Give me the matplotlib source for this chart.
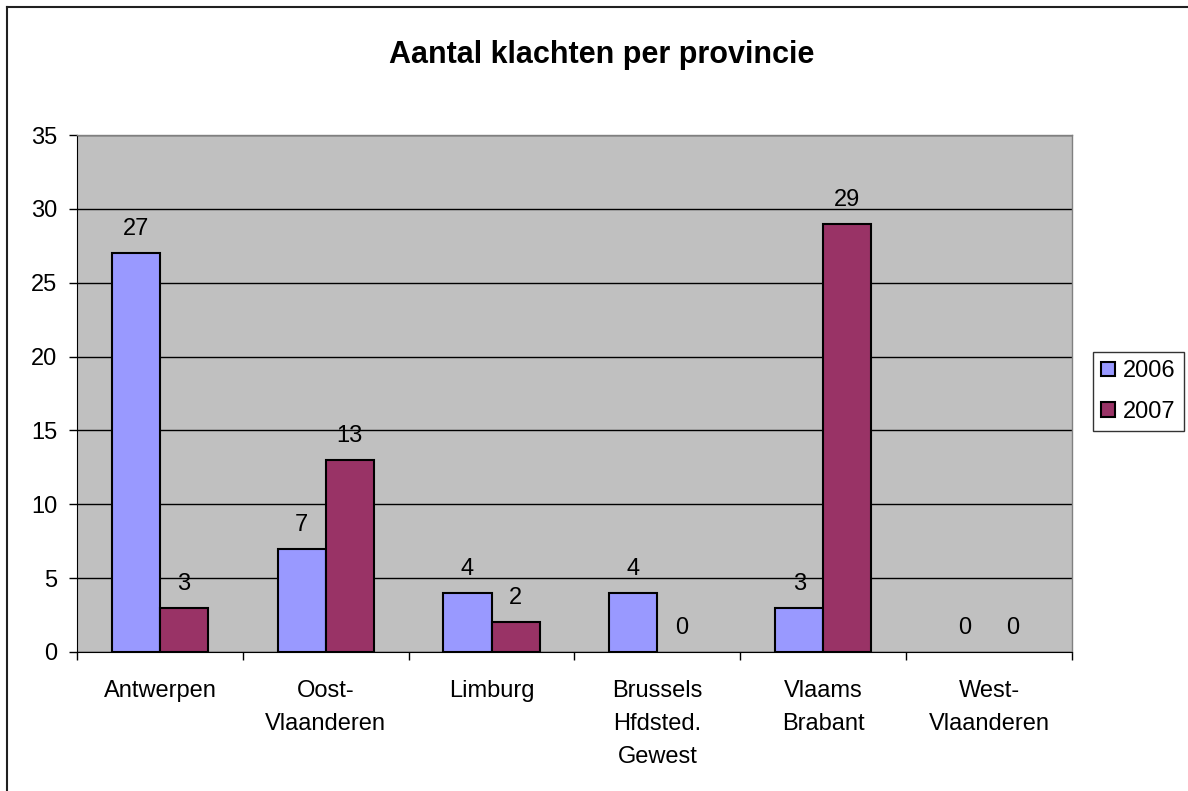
import matplotlib
matplotlib.use("Agg")
import matplotlib.pyplot as plt
import numpy as np
from matplotlib.lines import Line2D

plt.rcParams['font.family'] = ['Liberation Sans', 'DejaVu Sans']

categories = ["Antwerpen", "Oost-\nVlaanderen", "Limburg", "Brussels\nHfdsted.\nGewest",
              "Vlaams\nBrabant", "West-\nVlaanderen"]
v2006 = [27, 7, 4, 4, 3, 0]
v2007 = [3, 13, 2, 0, 29, 0]
series_names = ["2006", "2007"]
yticks = [0, 5, 10, 15, 20, 25, 30, 35]

W, H = 1188, 791
fig = plt.figure(figsize=(W/100, H/100), dpi=100)
ax = fig.add_axes([77/W, 1-652/H, (1072-77)/W, (652-135)/H])
ax.set_facecolor('#C0C0C0')

x = np.arange(len(categories))
w = 0.29
b1 = ax.bar(x - w/2, v2006, w, color='#9999FF', edgecolor='black', linewidth=1.5, zorder=3, label=series_names[0])
b2 = ax.bar(x + w/2, v2007, w, color='#993366', edgecolor='black', linewidth=1.5, zorder=3, label=series_names[1])
for bars, vals in ((b1, v2006), (b2, v2007)):
    for r, v in zip(bars, vals):
        if v == 0:
            r.set_visible(False)
        ax.annotate(str(v), (r.get_x() + r.get_width()/2, v), xytext=(0, 13),
                    textcoords='offset points', ha='center', va='baseline', fontsize=17)

ax.set_xlim(-0.5, len(categories) - 0.5)
ax.set_ylim(0, 35)
ax.set_yticks(yticks)
ax.set_yticklabels([str(t) for t in yticks], fontsize=17)
ax.yaxis.grid(True, color='black', linewidth=1)
ax.set_axisbelow(True)
ax.tick_params(axis='y', direction='out', length=6, width=1, pad=8)

ax.set_xticks(x)
ax.set_xticklabels(categories, fontsize=17, linespacing=1.62, va='top')
ax.tick_params(axis='x', length=0, pad=20.5)
ax.set_xticks(np.arange(len(categories) + 1) - 0.5, minor=True)
ax.tick_params(axis='x', which='minor', direction='out', length=6, width=1)

for s in ('top', 'right'):
    ax.spines[s].set_color('#808080')
    ax.spines[s].set_linewidth(1)
ax.spines['left'].set_color('black')
ax.spines['bottom'].set_color('black')

fig.text(602/W, 1-63/H, "Aantal klachten per provincie", ha='center', va='baseline',
         fontsize=22, fontweight='bold')

leg = ax.legend(loc='upper left', bbox_to_anchor=(1093/W, 1-352/H), bbox_transform=fig.transFigure,
                fontsize=17, frameon=True, fancybox=False, edgecolor='black',
                handlelength=0.58, handleheight=0.58, handletextpad=0.33, labelspacing=0.8,
                borderpad=0.35, borderaxespad=0)
leg.get_frame().set_linewidth(1)

fig.add_artist(Line2D([7/W, 7/W], [0, 1-7/H], transform=fig.transFigure, color='#202020', linewidth=1.5))
fig.add_artist(Line2D([7/W, 1], [1-7/H, 1-7/H], transform=fig.transFigure, color='#202020', linewidth=1.5))

fig.savefig("out.png", dpi=100)
